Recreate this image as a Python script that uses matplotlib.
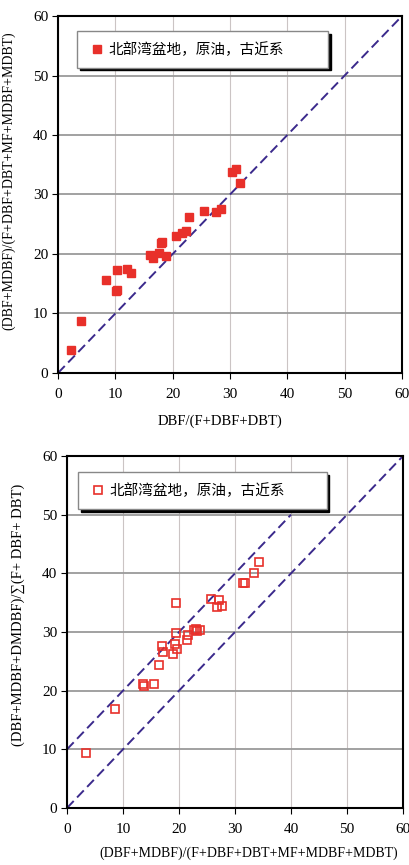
import matplotlib
matplotlib.use("Agg")
import matplotlib.pyplot as plt

plt.rcParams['font.family'] = ['Liberation Serif', 'DejaVu Serif']

legend_label = "北部湾盆地，原油，古近系"
ticks = [0, 10, 20, 30, 40, 50, 60]

# 上图：DBF/(F+DBF+DBT) vs (DBF+MDBF)/(...)
x1 = [2.3, 4.0, 8.4, 10.1, 10.3, 10.3, 12.1, 12.7, 16.1, 16.6, 17.6, 18.8,
      18.0, 18.2, 20.6, 21.7, 22.3, 22.8, 25.5, 27.6, 28.5, 30.3, 31.1, 31.7]
y1 = [3.8, 8.8, 15.6, 13.7, 14.0, 17.3, 17.5, 16.8, 19.9, 19.3, 20.1, 19.6,
      21.8, 22.0, 23.0, 23.6, 23.9, 26.2, 27.2, 27.0, 27.6, 33.8, 34.3, 32.0]

# 下图
x2 = [3.45, 8.6, 13.6, 13.8, 15.5, 16.4, 17.0, 17.2, 19.0, 19.2, 19.7, 19.5,
      19.4, 21.4, 21.6, 22.6, 23.1, 23.7, 23.2, 25.7, 27.1, 26.7, 27.6, 31.4,
      31.7, 33.4, 34.2]
y2 = [9.3, 16.8, 21.2, 20.8, 21.2, 24.3, 27.6, 26.6, 26.2, 27.9, 27.1, 29.8,
      34.9, 28.7, 29.5, 30.3, 30.5, 30.4, 30.2, 35.7, 35.4, 34.2, 34.4, 38.4,
      38.4, 40.0, 41.9]

red = '#e8302a'
navy = '#3b2a8c'

fig = plt.figure(figsize=(4.1, 8.65), dpi=100)
ax1 = fig.add_axes([0.1415, 0.5688, 0.839, 0.4127])
ax2 = fig.add_axes([0.1634, 0.0659, 0.8195, 0.4069])


def style(ax):
    ax.set_xlim(0, 60)
    ax.set_ylim(0, 60)
    ax.set_xticks(ticks)
    ax.set_yticks(ticks)
    ax.yaxis.grid(True, color='#9a9a9a', lw=1.3)
    ax.xaxis.grid(True, color='#cbc4c4', lw=0.8)
    ax.set_axisbelow(True)
    for s in ax.spines.values():
        s.set_linewidth(1.5)
        s.set_color('black')
    ax.tick_params(axis='x', direction='out', length=4, pad=7, labelsize=11)
    ax.tick_params(axis='y', direction='out', length=4, pad=3, labelsize=11)


style(ax1)
ax1.plot([0, 60], [0, 60], ls='--', color=navy, lw=1.4, dashes=(5, 2.5))
ax1.plot(x1, y1, 's', color=red, ms=6.0, mec=red, label=legend_label, zorder=3)
ax1.set_xlabel("DBF/(F+DBF+DBT)", fontsize=10.5)
ax1.xaxis.set_label_coords(0.47, -0.115)
ax1.set_ylabel("(DBF+MDBF)/(F+DBF+DBT+MF+MDBF+MDBT)", fontsize=10)
ax1.yaxis.set_label_coords(-0.125, 0.54)

style(ax2)
ax2.plot([0, 60], [0, 60], ls='--', color=navy, lw=1.4, dashes=(5, 2.5))
ax2.plot([0, 40], [10, 50], ls='--', color=navy, lw=1.4, dashes=(5, 2.5))
ax2.plot(x2, y2, 's', mfc='none', mec=red, mew=1.2, ms=6.0, label=legend_label, zorder=3)
ax2.set_xlabel("(DBF+MDBF)/(F+DBF+DBT+MF+MDBF+MDBT)", fontsize=10)
ax2.xaxis.set_label_coords(0.54, -0.11)
ax2.set_ylabel("(DBF+MDBF+DMDBF)/∑(F+ DBF+ DBT)", fontsize=10.5)
ax2.yaxis.set_label_coords(-0.125, 0.55)

for ax, anchor in [(ax1, (0.055, 0.843, 0.73, 0.115)), (ax2, (0.033, 0.84, 0.74, 0.114))]:
    leg = ax.legend(loc='upper left', bbox_to_anchor=anchor, mode='expand',
                    prop={'family': ['Noto Sans CJK SC'], 'size': 10.5},
                    fancybox=False, borderpad=0.75, handletextpad=0.2,
                    handlelength=1.2, borderaxespad=0,
                    shadow={'color': 'black', 'alpha': 1})
    leg.get_frame().set_edgecolor('#888888')
    leg.get_frame().set_linewidth(1.0)
    leg.get_frame().set_alpha(1)

fig.savefig('out.png', dpi=100)
